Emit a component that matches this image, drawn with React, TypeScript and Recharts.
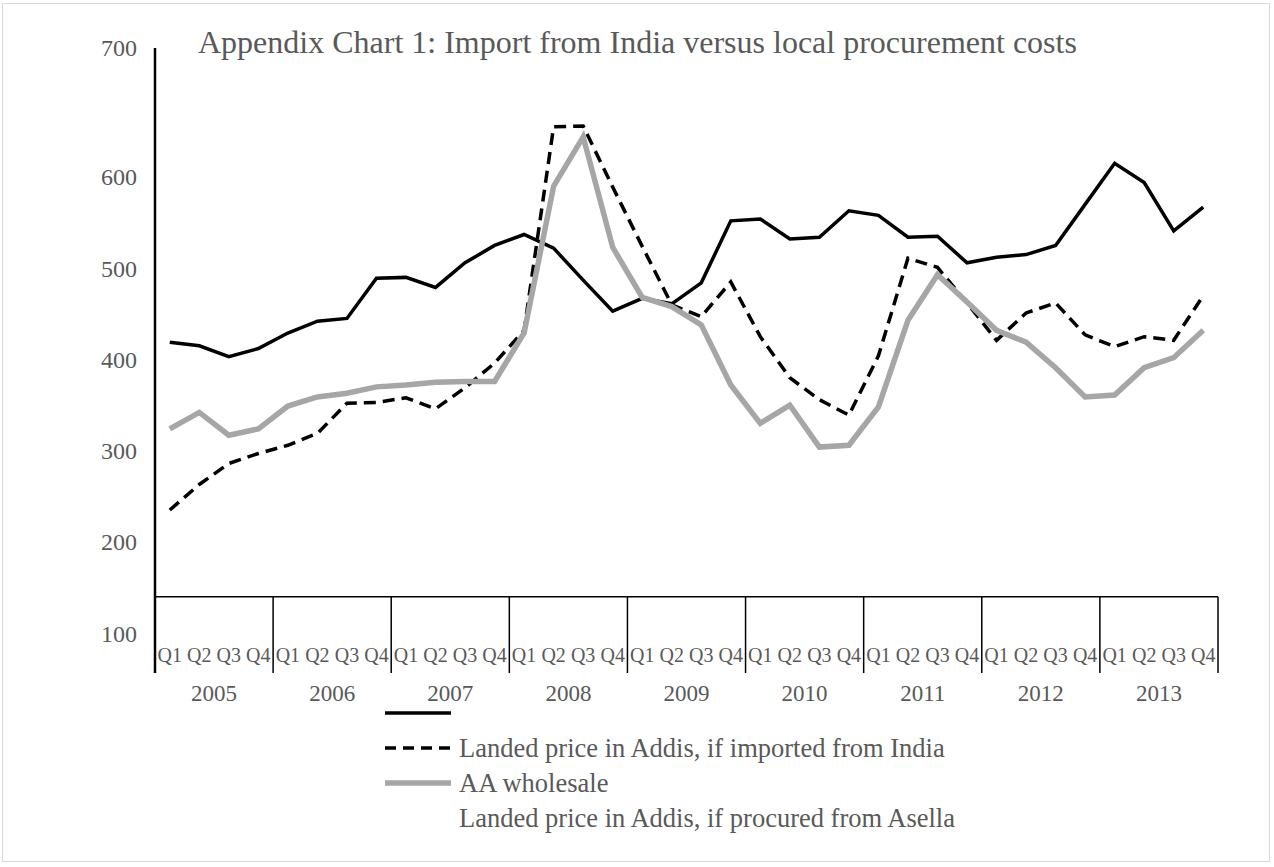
import React from 'react';
import { LineChart, Line, XAxis, YAxis, ReferenceLine } from 'recharts';

// quarterly series, 2005 Q1 .. 2013 Q4
const years = ['2005', '2006', '2007', '2008', '2009', '2010', '2011', '2012', '2013'];
const quarters = ['Q1', 'Q2', 'Q3', 'Q4'];

const solidBlack = [
  419, 415, 403, 412, 429, 442, 445, 489, 490, 479,
  506, 525, 537, 522, 487, 453, 467, 461, 484, 552,
  554, 532, 534, 563, 558, 534, 535, 506, 512, 515,
  525, 570, 615, 594, 541, 567,
];
const dashedBlack = [
  235, 263, 286, 297, 306, 319, 352, 353, 358, 346,
  369, 396, 432, 655, 656, 589, 524, 460, 447, 485,
  425, 380, 356, 339, 404, 511, 501, 462, 421, 451,
  462, 427, 414, 425, 421, 470,
];
const aaWholesale = [
  324, 342, 317, 324, 349, 359, 363, 370, 372, 375,
  376, 376, 429, 590, 644, 523, 468, 458, 438, 372,
  330, 350, 304, 306, 348, 443, 493, 463, 432, 419,
  391, 359, 361, 391, 402, 432,
];

const yTicks = [100, 200, 300, 400, 500, 600, 700];
const legendLabels = [
  '',
  'Landed price in Addis, if imported from India',
  'AA wholesale',
  'Landed price in Addis, if procured from Asella',
];

const data = solidBlack.map((v, i) => ({
  idx: i,
  solid: v,
  dashed: dashedBlack[i],
  wholesale: aaWholesale[i],
}));

const FONT = "'Liberation Serif', 'Times New Roman', serif";
const TEXT = '#595959';
const GRAY = '#A6A6A6';
const Y_MIN = 56.4;
const Y_MAX = 741.4;
const AXIS_CROSS = 140;
const HALF_STEP = 1063 / 72;

const QuarterTick = ({ x, y, payload }: any) => {
  const i = payload.value;
  return (
    <g>
      <text x={x} y={y - 11} textAnchor="middle" fontSize={20} fill={TEXT} fontFamily={FONT}>
        {quarters[i % 4]}
      </text>
      {i % 4 === 1 && (
        <text x={x + HALF_STEP} y={y + 28} textAnchor="middle" fontSize={23} fill={TEXT} fontFamily={FONT}>
          {years[Math.floor(i / 4)]}
        </text>
      )}
    </g>
  );
};

const ValueTick = ({ x, y, payload }: any) => (
  <text
    x={x}
    y={payload.value === 700 ? y - 38 : y}
    dy="0.35em"
    textAnchor="end"
    fontSize={24}
    fill={TEXT}
    fontFamily={FONT}
  >
    {payload.value}
  </text>
);

const legendStyles = [
  { stroke: '#000', width: 3.5, dash: undefined as string | undefined, show: true },
  { stroke: '#000', width: 3.5, dash: '11 7', show: true },
  { stroke: GRAY, width: 5.5, dash: undefined, show: true },
  { stroke: 'none', width: 0, dash: undefined, show: false },
];

export default function App() {
  return (
    <div style={{ position: 'absolute', left: 0, top: 0, width: 1274, height: 867, background: '#fff' }}>
      <div
        style={{
          position: 'absolute', left: 2, top: 3, width: 1268, height: 859,
          border: '1px solid #D9D9D9', boxSizing: 'border-box',
        }}
      />
      <div style={{ position: 'absolute', left: 0, top: 0 }}>
        <LineChart
          width={1274}
          height={867}
          data={data}
          margin={{ top: 48, right: 56, left: 95, bottom: 154 }}
        >
          <XAxis
            dataKey="idx"
            type="number"
            domain={[-0.5, 35.5]}
            ticks={data.map((d) => d.idx)}
            interval={0}
            axisLine={false}
            tickLine={false}
            tickSize={0}
            tickMargin={0}
            height={40}
            tick={<QuarterTick />}
          />
          <YAxis
            type="number"
            domain={[Y_MIN, Y_MAX]}
            allowDataOverflow
            ticks={yTicks}
            width={60}
            axisLine={{ stroke: '#000', strokeWidth: 2.5 }}
            tickLine={false}
            tickSize={0}
            tickMargin={18}
            tick={<ValueTick />}
          />
          <ReferenceLine y={AXIS_CROSS} stroke="#000" strokeWidth={1.5} />
          {years.map((yr, k) => (
            <ReferenceLine
              key={yr}
              segment={[{ x: 4 * k + 3.5, y: Y_MIN }, { x: 4 * k + 3.5, y: AXIS_CROSS }]}
              stroke="#000"
              strokeWidth={1.5}
            />
          ))}
          <Line dataKey="solid" stroke="#000" strokeWidth={3.5} dot={false} isAnimationActive={false} />
          <Line
            dataKey="dashed"
            stroke="#000"
            strokeWidth={3.5}
            strokeDasharray="12 7"
            dot={false}
            isAnimationActive={false}
          />
          <Line dataKey="wholesale" stroke={GRAY} strokeWidth={5.5} dot={false} isAnimationActive={false} />
        </LineChart>
      </div>
      <svg
        width={1274}
        height={867}
        style={{ position: 'absolute', left: 0, top: 0, pointerEvents: 'none' }}
      >
        <text x={198} y={53} fontSize={32} fill={TEXT} fontFamily={FONT}>
          Appendix Chart 1: Import from India versus local procurement costs
        </text>
        {legendLabels.map((label, k) => {
          const cy = 713 + k * 35;
          const st = legendStyles[k];
          return (
            <g key={k}>
              {st.show && (
                <line
                  x1={385}
                  x2={451}
                  y1={cy}
                  y2={cy}
                  stroke={st.stroke}
                  strokeWidth={st.width}
                  strokeDasharray={st.dash}
                />
              )}
              <text x={459} y={cy + 9} fontSize={26.5} fill={TEXT} fontFamily={FONT}>
                {label}
              </text>
            </g>
          );
        })}
      </svg>
    </div>
  );
}
